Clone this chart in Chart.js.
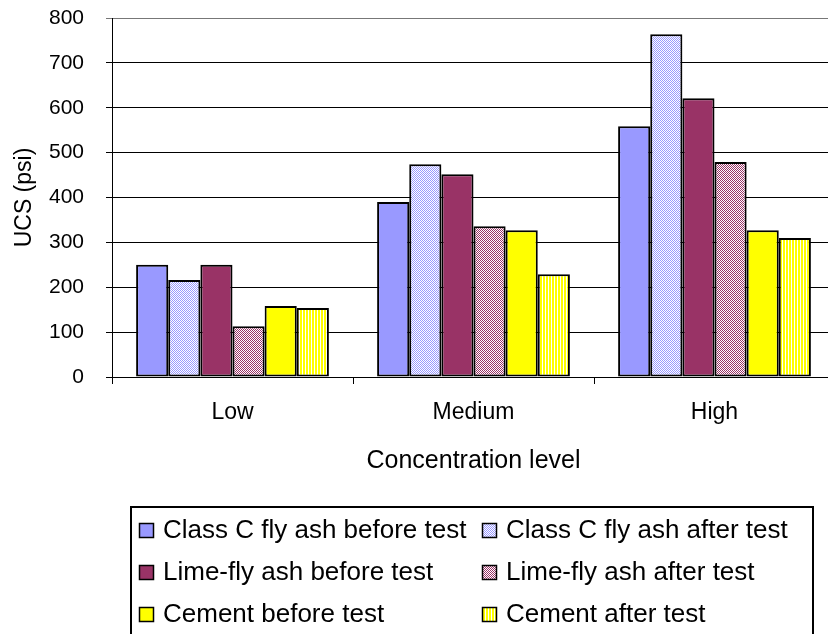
<!DOCTYPE html>
<html>
<head>
<meta charset="utf-8">
<script src="https://cdn.jsdelivr.net/npm/chart.js@4/dist/chart.umd.min.js"></script>
<style>
  html, body { margin: 0; padding: 0; background: #fff; overflow: hidden; }
  #wrap { position: relative; width: 840px; height: 634px; }
</style>
</head>
<body>
<div id="wrap"><canvas id="c" width="840" height="634"></canvas></div>
<script>
const categories = ['Low', 'Medium', 'High'];
const seriesLabels = [
  'Class C fly ash before test', 'Class C fly ash after test',
  'Lime-fly ash before test', 'Lime-fly ash after test',
  'Cement before test', 'Cement after test'
];
const classCBefore = [250, 390, 559];
const classCAfter = [216, 474, 764];
const limeBefore = [250, 452, 621];
const limeAfter = [113, 336, 479];
const cementBefore = [158, 327, 327];
const cementAfter = [154, 229, 310];
const yTicks = [0, 100, 200, 300, 400, 500, 600, 700, 800];

const FONT = "'Liberation Sans', Arial, Helvetica, sans-serif";
Chart.defaults.font.family = FONT;
Chart.defaults.color = '#000';

const canvas = document.getElementById('c');
const mainCtx = canvas.getContext('2d');

function makePattern(size, fg, bg, test) {
  const pc = document.createElement('canvas');
  pc.width = size; pc.height = size;
  const p = pc.getContext('2d');
  p.fillStyle = bg; p.fillRect(0, 0, size, size);
  p.fillStyle = fg;
  for (let y = 0; y < size; y++) for (let x = 0; x < size; x++) if (test(x, y)) p.fillRect(x, y, 1, 1);
  return mainCtx.createPattern(pc, 'repeat');
}
const classCAfterFill = makePattern(2, '#9999FF', '#FFFFFF', (x, y) => ((x + y) % 2) === 0);
const limeAfterFill = makePattern(2, '#993366', '#FFFFFF', (x, y) => ((x + y) % 2) === 0);
const cementAfterFill = makePattern(3, '#FFFF00', '#FFFFFF', (x, y) => (x % 3) < 2);

const values = [classCBefore, classCAfter, limeBefore, limeAfter, cementBefore, cementAfter];
const fills = ['#9999FF', classCAfterFill, '#993366', limeAfterFill, '#FFFF00', cementAfterFill];

const datasets = values.map((v, i) => ({
  label: seriesLabels[i],
  data: v,
  backgroundColor: fills[i],
  borderColor: '#000',
  borderWidth: 2,
  borderSkipped: false,
  barPercentage: 1.0,
  categoryPercentage: 0.8
}));

const legendPlugin = {
  id: 'boxLegend',
  afterDraw(chart) {
    const ctx = chart.ctx;
    ctx.save();
    ctx.strokeStyle = '#000';
    ctx.lineWidth = 2;
    ctx.strokeRect(131, 507, 682, 160);
    ctx.font = '26px ' + FONT;
    ctx.textBaseline = 'middle';
    ctx.textAlign = 'left';
    const rowsY = [530, 572, 614];
    const colX = [139, 482];
    chart.data.datasets.forEach((ds, i) => {
      const col = i % 2, row = Math.floor(i / 2);
      const x = colX[col], y = rowsY[row];
      ctx.fillStyle = ds.backgroundColor;
      ctx.fillRect(x, y - 7, 14, 14);
      ctx.lineWidth = 1.5;
      ctx.strokeRect(x + 0.5, y - 6.5, 14, 14);
      ctx.fillStyle = '#000';
      ctx.fillText(ds.label, x + 24, y + 1);
    });
    ctx.restore();
  }
};

new Chart(canvas, {
  type: 'bar',
  data: { labels: categories, datasets },
  options: {
    responsive: false,
    animation: false,
    layout: { padding: { left: 0, top: 18, right: 5, bottom: 157 } },
    plugins: { legend: { display: false }, tooltip: { enabled: false } },
    scales: {
      x: {
        grid: { display: true, drawOnChartArea: false, drawTicks: true, tickLength: 7, color: '#000', offset: true },
        border: { display: true, color: '#000', width: 1 },
        ticks: { font: { size: 23 }, color: '#000', padding: 15, maxRotation: 0 },
        title: { display: true, text: 'Concentration level', font: { size: 25 }, color: '#000', padding: { top: 0, bottom: 1 } },
        afterFit(s) { s.height = 100; }
      },
      y: {
        min: 0, max: 800,
        afterBuildTicks(s) { s.ticks = yTicks.map(v => ({ value: v })); },
        grid: {
          color: (c) => (c.tick && c.tick.value === 800) ? '#777' : '#000',
          lineWidth: 1, drawTicks: true, tickLength: 6
        },
        border: { display: true, color: '#000', width: 1 },
        ticks: { font: { size: 21 }, color: '#000', padding: 22 },
        title: { display: true, text: 'UCS (psi)', font: { size: 23 }, color: '#000', padding: { top: 11, bottom: 0 } },
        afterFit(s) { s.width = 112; s.paddingTop = 0; s.paddingBottom = 0; }
      }
    }
  },
  plugins: [legendPlugin]
});
</script>
</body>
</html>
